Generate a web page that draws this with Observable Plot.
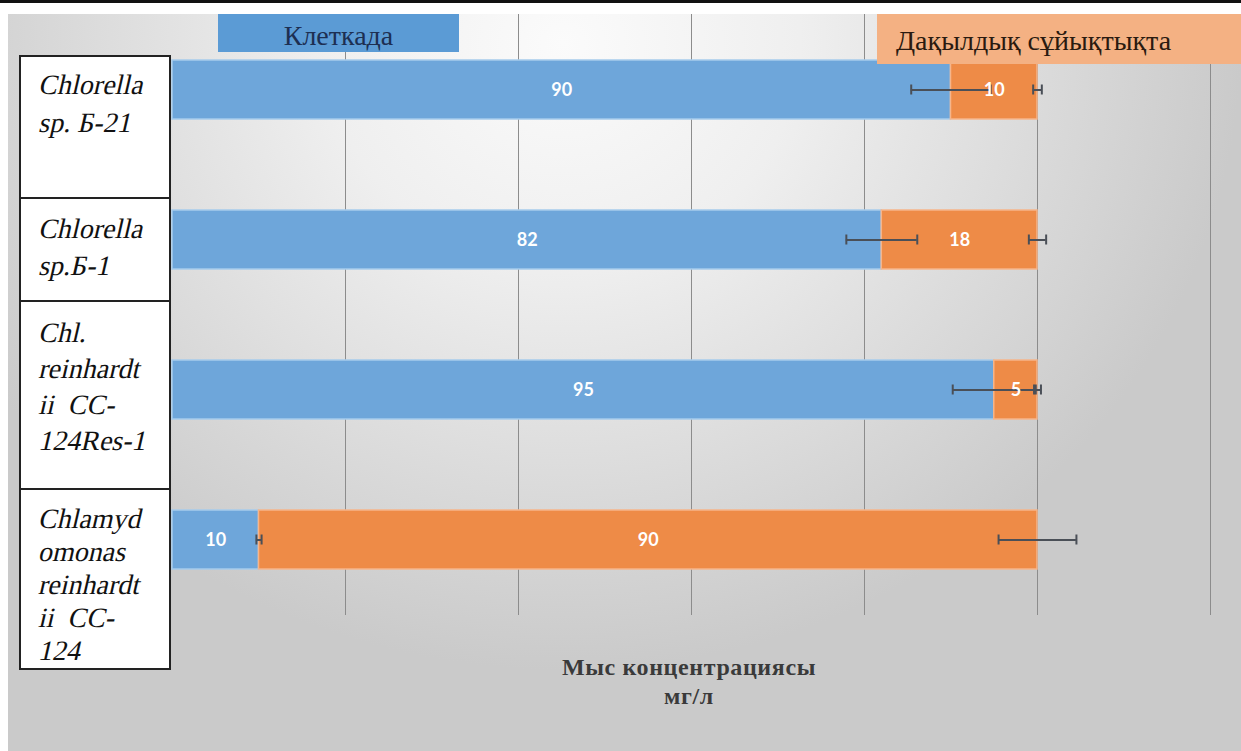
<!DOCTYPE html>
<html>
<head>
<meta charset="utf-8">
<script src="https://cdn.jsdelivr.net/npm/d3@7"></script>
<script src="https://cdn.jsdelivr.net/npm/@observablehq/plot@0.6"></script>
<style>
  html, body { margin: 0; padding: 0; background: #fff; }
  #wrap { position: relative; width: 1241px; height: 751px; overflow: hidden; background: #fff; }
  #topline { position: absolute; left: 0; top: 0; width: 1241px; height: 3px; background: #111; }
  #panel {
    position: absolute; left: 8px; top: 14px; width: 1233px; height: 737px;
    background: radial-gradient(ellipse 55% 85% at 45% 4%, #fbfbfb 0%, #efefef 35%, #dedede 65%, #cacaca 100%);
  }
  #chart { position: absolute; left: 0; top: 0; }
  .legend {
    position: absolute; font-family: "Liberation Serif", "Times New Roman", serif; font-size: 28px;
    box-sizing: border-box; white-space: nowrap;
  }
  .lbl {
    position: absolute; left: 19px; width: 152px; box-sizing: border-box;
    border: 2.5px solid #222; background: #fff;
    font-family: "Liberation Serif", "Times New Roman", serif; font-style: normal; font-size: 28px;
    padding-left: 17px; color: #111; white-space: nowrap;
  }
  .lbl span { display: inline-block; transform: skewX(-13deg); transform-origin: 0 75%; }
  #xtitle {
    position: absolute; left: 439px; width: 500px; top: 653px; text-align: center;
    font-family: "Liberation Serif", "Times New Roman", serif; font-weight: bold; font-size: 24px;
    letter-spacing: 0.6px; line-height: 29px; color: #3a3a3a;
  }
</style>
</head>
<body>
<div id="wrap">
  <div id="topline"></div>
  <div id="panel"></div>
  <div id="chart"></div>
</div>
<script>
// ---- data ----
const categories = [
  "Chlorella sp. Б-21",
  "Chlorella sp.Б-1",
  "Chl. reinhardtii CC-124Res-1",
  "Chlamydomonas reinhardtii CC-124"
];
const categoryLabelLines = [
  ["Chlorella", "sp. Б-21"],
  ["Chlorella", "sp.Б-1"],
  ["Chl.", "reinhardt", "ii  CC-", "124Res-1"],
  ["Chlamyd", "omonas", "reinhardt", "ii  CC-", "124"]
];
const seriesNames = ["Клеткада", "Дақылдық сұйықтықта"];
const cellValues = [90, 82, 95, 10];
const mediumValues = [10, 18, 5, 90];
const cellErrors = [4.6, 4.1, 4.8, 0.3];
const mediumErrors = [0.5, 1.0, 0.4, 4.5];
const gridTicks = [20, 40, 60, 80, 100, 120];
const xTitleLines = ["Мыс концентрациясы", "мг/л"];

// ---- styles ----
const barColors = ["#6ea6da", "#ee8b47"];
const barEdge = ["#a6cbec", "#f6b58a"];
const legendColors = ["#5b9bd5", "#f4b183"];

// ---- derived table ----
const rows = [];
categories.forEach((c, i) => {
  rows.push({cat: c, series: seriesNames[0], value: cellValues[i]});
  rows.push({cat: c, series: seriesNames[1], value: mediumValues[i]});
});
const errRows = [];
categories.forEach((c, i) => {
  errRows.push({cat: c, center: cellValues[i], err: cellErrors[i]});
  errRows.push({cat: c, center: cellValues[i] + mediumValues[i], err: mediumErrors[i]});
});
const capRows = errRows.flatMap(d => [{cat: d.cat, x: d.center - d.err}, {cat: d.cat, x: d.center + d.err}]);

const chart = Plot.plot({
  width: 1241,
  height: 751,
  marginLeft: 172,
  marginRight: 31,
  marginTop: 14,
  marginBottom: 136,
  style: {background: "transparent", overflow: "visible"},
  x: {domain: [0, 120], axis: null},
  y: {domain: categories, range: [58.5, 570.5], paddingInner: 0.609, paddingOuter: 0, axis: null},
  color: {domain: seriesNames, range: barColors},
  marks: [
    Plot.gridX({ticks: gridTicks, stroke: "#8c8c8c", strokeOpacity: 1, strokeWidth: 1}),
    Plot.barX(rows, Plot.stackX({
      x: "value", y: "cat", fill: "series",
      stroke: d => barEdge[seriesNames.indexOf(d.series)], strokeWidth: 1.5
    })),
    Plot.ruleY(errRows, {y: "cat", x1: d => d.center - d.err, x2: d => d.center + d.err, stroke: "#4a4f57", strokeWidth: 2}),
    Plot.tickX(capRows, {x: "x", y: "cat", stroke: "#4a4f57", strokeWidth: 2, insetTop: 24.5, insetBottom: 24.5}),
    Plot.text(rows, Plot.stackX({
      x: "value", y: "cat", text: d => String(d.value),
      fill: "white", fontWeight: "bold", fontSize: 18, fontFamily: "Lato, 'Open Sans', sans-serif"
    }))
  ]
});
document.getElementById("chart").appendChild(chart);

const wrap = document.getElementById("wrap");

// legend boxes
const legendGeom = [
  {left: 218, top: 14, width: 241, height: 38, color: "#1d2f52", align: "center", pad: 0},
  {left: 877, top: 14, width: 364, height: 50, color: "#2a1a10", align: "left", pad: 19}
];
seriesNames.forEach((s, i) => {
  const g = legendGeom[i];
  const el = document.createElement("div");
  el.className = "legend";
  Object.assign(el.style, {
    left: g.left + "px", top: g.top + "px", width: g.width + "px", height: g.height + "px",
    lineHeight: (g.height + (i === 0 ? 6 : 4)) + "px", background: legendColors[i], color: g.color,
    textAlign: g.align, paddingLeft: g.pad + "px"
  });
  el.textContent = s;
  wrap.appendChild(el);
});

// category label boxes
const boxGeom = [
  {top: 55, bottom: 199, lh: 38, padTop: 9},
  {top: 197, bottom: 302, lh: 37, padTop: 11},
  {top: 300, bottom: 490, lh: 36, padTop: 13},
  {top: 488, bottom: 670, lh: 33, padTop: 12}
];
categoryLabelLines.forEach((lines, i) => {
  const g = boxGeom[i];
  const el = document.createElement("div");
  el.className = "lbl";
  Object.assign(el.style, {
    top: g.top + "px", height: (g.bottom - g.top) + "px", lineHeight: g.lh + "px", paddingTop: g.padTop + "px"
  });
  el.innerHTML = lines.map(t => "<span>" + t.replace(/ /g, "&nbsp;") + "</span>").join("<br>");
  wrap.appendChild(el);
});

// x title
const xt = document.createElement("div");
xt.id = "xtitle";
xt.innerHTML = xTitleLines.join("<br>");
wrap.appendChild(xt);
</script>
</body>
</html>
